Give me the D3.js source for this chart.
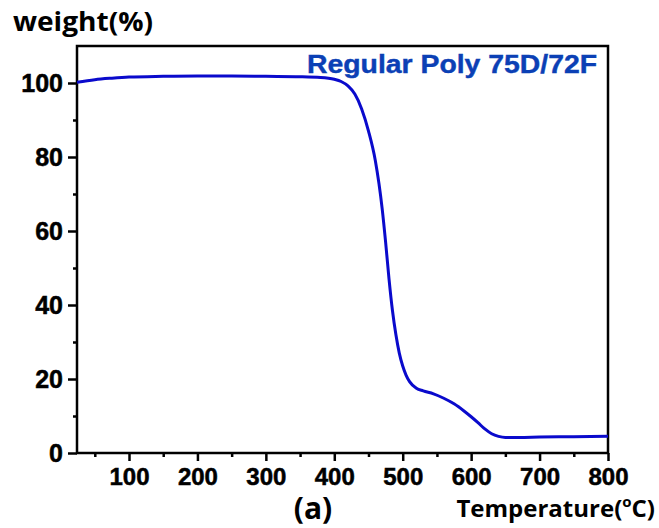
<!DOCTYPE html>
<html>
<head>
<meta charset="utf-8">
<script src="https://cdn.jsdelivr.net/npm/d3@7"></script>
<style>
  html, body { margin: 0; padding: 0; background: #fff; }
  svg { display: block; }
</style>
</head>
<body>
<svg id="chart" width="659" height="528"></svg>
<script>
// ---- data ----
const temperature = [24, 50, 75, 100, 150, 200, 250, 300, 350, 380, 400, 410, 420, 430, 440, 450, 460, 470, 475, 480, 485, 490, 495, 500, 505, 510, 520, 530, 545, 560, 575, 590, 600, 610, 620, 630, 640, 650, 670, 700, 750, 800];
const weight      = [100.2, 100.9, 101.3, 101.6, 101.8, 101.9, 101.9, 101.8, 101.7, 101.5, 101.0, 100.4, 99.2, 97.0, 93.0, 87.0, 79.0, 66.0, 57.0, 47.0, 38.5, 32.0, 27.0, 23.5, 21.0, 19.3, 17.5, 16.8, 16.0, 14.8, 13.3, 11.3, 9.8, 8.2, 6.5, 5.2, 4.5, 4.2, 4.2, 4.3, 4.4, 4.5];
const xMajorTicks = [100, 200, 300, 400, 500, 600, 700, 800];
const xMinorTicks = [50, 150, 250, 350, 450, 550, 650, 750];
const yMajorTicks = [0, 20, 40, 60, 80, 100];
const yMinorTicks = [10, 30, 50, 70, 90];
const seriesName = "Regular Poly 75D/72F";
const yTitle = "weight(%)";
const panelLabel = "(a)";

// ---- layout ----
const svg = d3.select("#chart");
const L = 77, R = 608, T = 46, B = 453;
const x = d3.scaleLinear().domain([24, 800]).range([L, R]);
const y = d3.scaleLinear().domain([0, 110]).range([B, T]);

const numFont = "'Liberation Sans', Arial, sans-serif";
const labFont = "'Open Sans', Lato, sans-serif";

// x axis
const xAxis = svg.append("g").attr("transform", `translate(0,${B})`)
  .call(d3.axisBottom(x).tickValues(xMajorTicks).tickSize(8).tickPadding(7).tickSizeOuter(0));
xAxis.select(".domain").remove();
xAxis.selectAll("line").attr("stroke", "#000").attr("stroke-width", 2.5);
xAxis.selectAll("text").attr("font-family", numFont).attr("font-weight", "bold")
  .attr("font-size", 24).attr("fill", "#000").attr("stroke", "#000").attr("stroke-width", 0.5);

const xAxisMinor = svg.append("g").attr("transform", `translate(0,${B})`)
  .call(d3.axisBottom(x).tickValues(xMinorTicks).tickSize(4).tickFormat(""));
xAxisMinor.select(".domain").remove();
xAxisMinor.selectAll("line").attr("stroke", "#000").attr("stroke-width", 2.5);

// y axis
const yAxis = svg.append("g").attr("transform", `translate(${L},0)`)
  .call(d3.axisLeft(y).tickValues(yMajorTicks).tickSize(9).tickPadding(5).tickSizeOuter(0));
yAxis.select(".domain").remove();
yAxis.selectAll("line").attr("stroke", "#000").attr("stroke-width", 2.5);
yAxis.selectAll("text").attr("font-family", numFont).attr("font-weight", "bold")
  .attr("font-size", 25).attr("fill", "#000").attr("stroke", "#000").attr("stroke-width", 0.5);

const yAxisMinor = svg.append("g").attr("transform", `translate(${L},0)`)
  .call(d3.axisLeft(y).tickValues(yMinorTicks).tickSize(4).tickFormat(""));
yAxisMinor.select(".domain").remove();
yAxisMinor.selectAll("line").attr("stroke", "#000").attr("stroke-width", 2.5);

// frame
svg.append("rect").attr("x", L).attr("y", T).attr("width", R - L).attr("height", B - T)
  .attr("fill", "none").attr("stroke", "#000").attr("stroke-width", 2.5);

// curve
const line = d3.line().x((d, i) => x(temperature[i])).y(d => y(d)).curve(d3.curveMonotoneX);
svg.append("path").datum(weight).attr("d", line)
  .attr("fill", "none").attr("stroke", "#0a0acc").attr("stroke-width", 3);

// legend
svg.append("text").attr("x", 307).attr("y", 73).text(seriesName)
  .attr("font-family", numFont).attr("font-weight", "bold").attr("font-size", 25)
  .attr("fill", "#0b40b5").attr("stroke", "#0b40b5").attr("stroke-width", 0.4)
  .attr("textLength", 290).attr("lengthAdjust", "spacingAndGlyphs");

// y title
svg.append("text").attr("x", 13).attr("y", 31).text(yTitle)
  .attr("font-family", labFont).attr("font-weight", "bold").attr("font-size", 27)
  .attr("fill", "#000").attr("textLength", 140).attr("lengthAdjust", "spacingAndGlyphs");

// x title
const xt = svg.append("text").attr("x", 655).attr("y", 517).attr("text-anchor", "end")
  .attr("font-family", labFont).attr("font-weight", "bold").attr("font-size", 24).attr("fill", "#000");
xt.append("tspan").text("Temperature(");
xt.append("tspan").text("o").attr("font-size", 15).attr("dy", -10);
xt.append("tspan").text("C)").attr("dy", 10);

// panel label
svg.append("text").attr("x", 313).attr("y", 519).attr("text-anchor", "middle").text(panelLabel)
  .attr("font-family", labFont).attr("font-weight", "bold").attr("font-size", 30).attr("fill", "#000");
</script>
</body>
</html>
